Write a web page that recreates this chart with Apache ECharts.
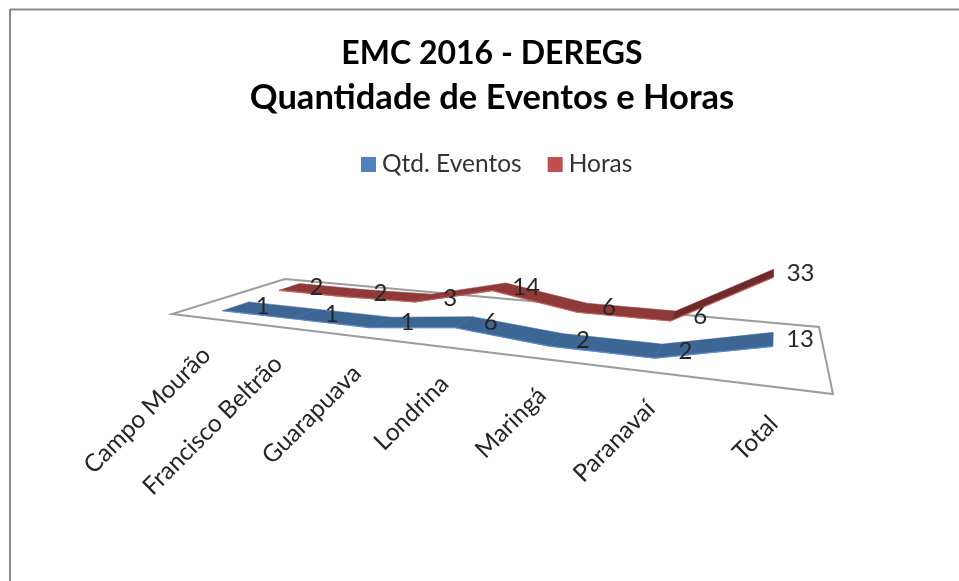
<!DOCTYPE html>
<html><head><meta charset="utf-8">
<style>html,body{margin:0;padding:0;background:#fff}#c{width:959px;height:581px}</style>
<script src="https://cdn.jsdelivr.net/npm/echarts@6/dist/echarts.min.js"></script>
</head><body><div id="c"></div>
<script>
const categories = ['Campo Mourão','Francisco Beltrão','Guarapuava','Londrina','Maringá','Paranavaí','Total'];
const qtdEventos = [1,1,1,6,2,2,13];
const horas = [2,2,3,14,6,6,33];
const axisMax = 35;

// Perspective of the floor: corners of the plane (front-left, front-right, back-right, back-left)
const FL=[172,314], FR=[833,394], BR=[819,327], BL=[285,279];
const dx1=FR[0]-BR[0], dx2=BL[0]-BR[0], dx3=FL[0]-FR[0]+BR[0]-BL[0];
const dy1=FR[1]-BR[1], dy2=BL[1]-BR[1], dy3=FL[1]-FR[1]+BR[1]-BL[1];
const den=dx1*dy2-dx2*dy1;
const pg=(dx3*dy2-dx2*dy3)/den, ph=(dx1*dy3-dx3*dy1)/den;
const pa=FR[0]-FL[0]+pg*FR[0], pb=BL[0]-FL[0]+ph*BL[0];
const pd=FR[1]-FL[1]+pg*FR[1], pe=BL[1]-FL[1]+ph*BL[1];
function project(u,d,lift){
  const w=pg*u+ph*d+1;
  return [(pa*u+pb*d+FL[0])/w, (pd*u+pe*d+FL[1])/w-(lift||0)/w];
}
// Map a data point through the (hidden) axes, then onto the plane
const FLOOR_WIDTH=661;
function place(api,params,i,v,d){
  const c=api.coord([i,v]), cs=params.coordSys;
  return project((c[0]-cs.x)/FLOOR_WIDTH, d, cs.y+cs.height-c[1]);
}
const textColor='#262626', FONT='Lato';
function ribbon(values,d0,d1,fill,dark,edge){
  return function(params,api){
    const i=api.value(0), v=api.value(1), children=[];
    const f=place(api,params,i,v,d0), b=place(api,params,i,v,d1);
    if(i<values.length-1){
      const n=values[i+1];
      const f2=place(api,params,i+1,n,d0), b2=place(api,params,i+1,n,d1);
      const steep=(f2[1]-f[1])/(f2[0]-f[0]);
      children.push({type:'polygon',shape:{points:[f,f2,b2,b]},z2:5,
        style:{fill:steep<-0.2?dark:fill,stroke:steep<-0.2?dark:fill,lineWidth:0.5}});
      children.push({type:'line',shape:{x1:f[0],y1:f[1],x2:f2[0],y2:f2[1]},z2:6,
        style:{stroke:edge,lineWidth:1.2}});
    }
    children.push({type:'text',z2:50,style:{text:String(v),x:(f[0]+b[0])/2+27,y:(f[1]+b[1])/2,
      textAlign:'center',textVerticalAlign:'middle',font:'24px '+FONT,fill:textColor}});
    return {type:'group',children};
  };
}
const chart=echarts.init(document.getElementById('c'),null,{renderer:'canvas'});
const rows=a=>a.map((v,i)=>[i,v]);
chart.setOption({
  animation:false,
  backgroundColor:'#fff',
  title:{left:487,textAlign:'center',top:27,text:'{a|EMC 2016 - DEREGS}\n{b|Quantidade de Eventos e Horas}',
    textStyle:{fontFamily:FONT,fontWeight:'bold',fontSize:32,lineHeight:44,color:'#000',
      rich:{a:{fontFamily:FONT,fontWeight:'bold',fontSize:32,lineHeight:44,color:'#000'},
            b:{fontFamily:FONT,fontWeight:'bold',fontSize:34.5,lineHeight:44,color:'#000'}}}},
  legend:{data:['Qtd. Eventos','Horas'],left:356,top:147,icon:'rect',itemWidth:15,itemHeight:15,itemGap:26,
    textStyle:{fontFamily:FONT,fontSize:24.5,color:'#333',padding:[0,0,0,1]},selectedMode:false},
  grid:{left:172,top:250,width:666,height:59},
  xAxis:{type:'category',data:categories,show:false},
  yAxis:{type:'value',min:0,max:axisMax,show:false},
  graphic:[
    {type:'line',shape:{x1:10,y1:9.5,x2:959,y2:9.5},style:{stroke:'#8a8a8a',lineWidth:2}},
    {type:'line',shape:{x1:10,y1:9,x2:10,y2:581},style:{stroke:'#8a8a8a',lineWidth:2}}
  ],
  series:[
    {type:'custom',name:'plano',silent:true,z:1,clip:false,data:[[0,0]],
     renderItem:()=>({type:'polygon',shape:{points:[FL,FR,BR,BL]},
       style:{fill:'#fff',stroke:'#9c9c9c',lineWidth:2}})},
    {type:'custom',name:'eixo',silent:true,z:2,clip:false,data:rows(categories.map(()=>0)),
     encode:{x:0,y:1},
     renderItem:(params,api)=>{
       const i=api.value(0), p=place(api,params,i,0,0);
       return {type:'text',rotation:Math.PI/4,x:p[0]+1,y:p[1]+33,
         style:{text:categories[i],x:0,y:0,textAlign:'right',textVerticalAlign:'middle',font:'24.5px '+FONT,fill:textColor}};
     }},
    {type:'custom',name:'Horas',z:3,clip:false,silent:true,data:rows(horas),encode:{x:0,y:1},
     itemStyle:{color:'#c0504d'},
     renderItem:ribbon(horas,0.63,0.84,'#8e3a39','#6e2b2a','#c9605c')},
    {type:'custom',name:'Qtd. Eventos',z:4,clip:false,silent:true,data:rows(qtdEventos),encode:{x:0,y:1},
     itemStyle:{color:'#4f81bd'},
     renderItem:ribbon(qtdEventos,0.13,0.35,'#3e6695','#365a86','#5b8ccb')}
  ]
});
</script></body></html>
